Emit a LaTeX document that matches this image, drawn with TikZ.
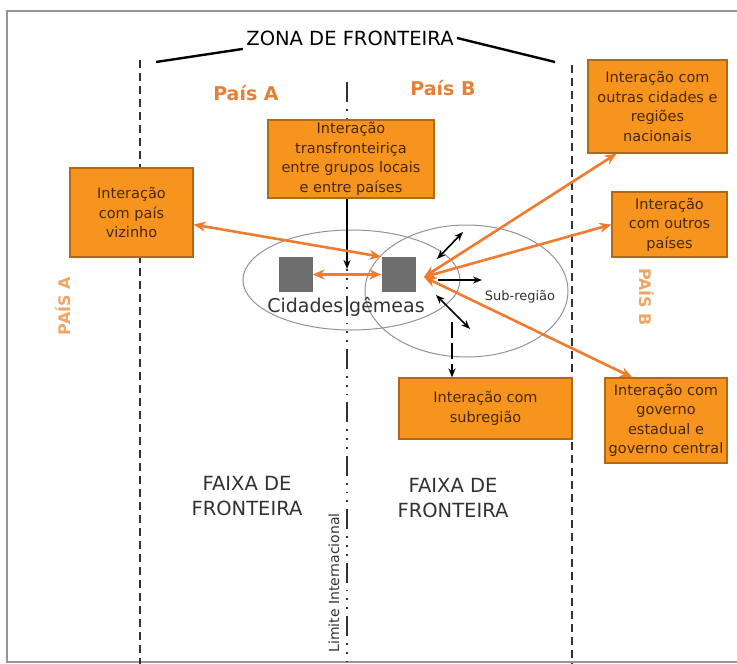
\documentclass[tikz,border=0pt]{standalone}
\usepackage{fontspec}
\setmainfont{DejaVu Sans}
\usetikzlibrary{arrows.meta,shapes.geometric}

\definecolor{laranja}{RGB}{247,148,30}
\definecolor{bordalaranja}{RGB}{175,105,25}
\definecolor{textocaixa}{RGB}{70,40,10}
\definecolor{setalaranja}{RGB}{240,122,45}
\definecolor{rotulo}{RGB}{228,128,55}
\definecolor{rotuloclaro}{RGB}{240,165,100}
\definecolor{cinza}{RGB}{110,110,110}
\definecolor{textocinza}{RGB}{50,50,50}
\definecolor{moldura}{RGB}{150,150,150}

\tikzset{
  caixa/.style={draw=bordalaranja, line width=1.2pt, fill=laranja, text=textocaixa, align=center,
                inner sep=0pt, font=\fontsize{14.5}{19.5}\selectfont},
  quadrado/.style={fill=cinza, minimum width=34pt, minimum height=35pt, inner sep=0pt},
  elipse/.style={ellipse, draw=gray!85, line width=1pt, inner sep=0pt},
  setalar/.style={draw=setalaranja, line width=2.6pt,
                  {Stealth[length=12pt,width=10pt]}-{Stealth[length=12pt,width=10pt]}},
  setapreta/.style={draw=black, line width=1.6pt, -{Stealth[length=9pt,width=7pt]}},
  setadupla/.style={draw=black, line width=1.6pt,
                    {Stealth[length=9pt,width=7pt]}-{Stealth[length=9pt,width=7pt]}},
  fronteira/.style={draw=textocinza, line width=1.4pt, dash pattern=on 8pt off 5pt},
  limite/.style={draw=textocinza, line width=1.6pt,
                 dash pattern=on 20pt off 7pt on 1.8pt off 7pt on 1.8pt off 7pt on 1.8pt off 7pt},
  pais/.style={text=rotulo, font=\fontsize{19}{22}\selectfont\bfseries},
  faixa/.style={text=textocinza, align=center, font=\fontsize{19.5}{25}\selectfont},
}

\begin{document}
\begin{tikzpicture}[x=1pt, y=-1pt]

    \useasboundingbox (0,0) rectangle (737,664);
    % \draw [help lines, step=50] (0,0) grid (737,664);

    \draw [moldura, line width=1.5pt] (737,11) -- (7,11) -- (7,662) -- (737,662);

    % linhas de fronteira
    \draw [fronteira] (140, 60) -- (140,664);
    \draw [fronteira] (572, 65) -- (572,664);
    \draw [limite]    (347, 82) -- (347,664);

    \node (zona) at (350,38) {\fontsize{19.5}{22}\selectfont ZONA DE FRONTEIRA};
    \coordinate (zl) at (156,62);
    \coordinate (zr) at (555,62);
    \draw [line width=2.4pt] (zona.south west) -- (zl);
    \draw [line width=2.4pt] (zona.east) -- (zr);

    \node [pais] (paisA) at (246,93) {País A};
    \node [pais] (paisB) at (443,88) {País B};

    \node [rotate=90,  text=rotuloclaro, font=\fontsize{16}{18}\selectfont\bfseries] (ladoA) at ( 63,306) {PAÍS A};
    \node [rotate=-90, text=rotuloclaro, font=\fontsize{16}{18}\selectfont\bfseries] (ladoB) at (647,297) {PAÍS B};

    \node [faixa] (faixaA) at (247,496) {FAIXA DE\\FRONTEIRA};
    \node [faixa] (faixaB) at (453,498) {FAIXA DE\\FRONTEIRA};
    \node [rotate=90, text=textocinza, font=\fontsize{14}{15}\selectfont] (limite) at (334,583) {Limite Internacional};

    % cidades gemeas e sub-regiao
    \node [elipse, minimum width=217pt, minimum height=100pt] (elA) at (351.5,280) {};
    \node [elipse, minimum width=203pt, minimum height=132pt] (elB) at (466.5,291) {};
    \node [quadrado] (qA) at (295.5,274.5) {};
    \node [quadrado] (qB) at (398.5,274.5) {};
    \node [text=textocinza, font=\fontsize{19}{20}\selectfont] (gemeas) at (346,307) {Cidades gêmeas};
    \node [text=textocinza, font=\fontsize{13}{14}\selectfont] (subr) at (520,297) {Sub-região};

    % caixas
    \node [caixa, minimum width=166pt, minimum height=78pt] (trans)   at (351,159)
          {Interação\\transfronteiriça\\entre grupos locais\\e entre países};
    \node [caixa, minimum width=123pt, minimum height=89pt] (vizinho) at (131.5,212.5)
          {Interação\\com país\\vizinho};
    \node [caixa, minimum width=139pt, minimum height=93pt] (outras)  at (657.5,106.5)
          {Interação com\\outras cidades e\\regiões\\nacionais};
    \node [caixa, minimum width=115pt, minimum height=65pt] (outros)  at (669.5,224.5)
          {Interação\\com outros\\países};
    \node [caixa, minimum width=173pt, minimum height=61pt] (subreg)  at (485.5,408.5)
          {Interação com\\subregião};
    \node [caixa, minimum width=122pt, minimum height=85pt] (governo) at (666,420.5)
          {Interação com\\governo\\estadual e\\governo central};

    % setas
    \coordinate (hub) at (424,277);
    \coordinate (meet) at (347,269);

    \draw [setapreta] (meet |- trans.south) -- (meet);
    \draw [setalar] (qA.east) -- (qB.west);
    \draw [setalar] (vizinho.-11) -- (qB.north west);
    \draw [setalar] (hub) -- (outras.-131);
    \draw [setalar] (hub) -- (outros.west);
    \draw [setalar] (hub) -- (governo.128);

    \coordinate (n1) at (437,259);  \coordinate (n2) at (463,232);
    \coordinate (l1) at (438,280);  \coordinate (l2) at (482,280);
    \coordinate (s1) at (436,295);  \coordinate (s2) at (470,329);
    \coordinate (d1) at (452,322);
    \draw [setadupla] (n1) -- (n2);
    \draw [setapreta] (l1) -- (l2);
    \draw [setadupla] (s1) -- (s2);
    \draw [setapreta, dash pattern=on 16pt off 5pt] (d1) -- (d1 |- subreg.north);

\end{tikzpicture}
\end{document}
